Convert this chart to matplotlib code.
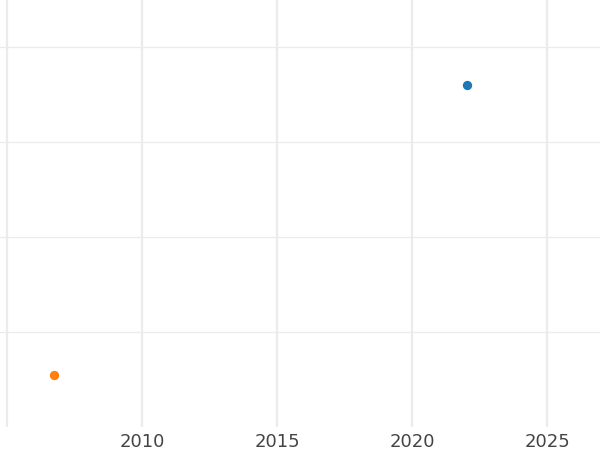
import matplotlib
matplotlib.use("Agg")
import matplotlib.pyplot as plt

# two single-point series, years on x, unlabeled values on y
years_a = [2022.05]
values_a = [3.6]
years_b = [2006.75]
values_b = [0.55]

x_ticks = [2005, 2010, 2015, 2020, 2025]
x_labels = ["", "2010", "2015", "2020", "2025"]
y_ticks = [1, 2, 3, 4]

fig = plt.figure(figsize=(6, 4.5), dpi=100)
ax = fig.add_axes([0, 23 / 450, 1, 427 / 450])

ax.scatter(years_a, values_a, s=45, color="#1f77b4", zorder=3, linewidths=0)
ax.scatter(years_b, values_b, s=45, color="#ff7f0e", zorder=3, linewidths=0)

ax.set_xlim(2004.74, 2026.96)
ax.set_ylim(0, 427 / 95)

ax.set_xticks(x_ticks)
ax.set_xticklabels(x_labels)
ax.set_yticks(y_ticks)
ax.set_yticklabels([])

ax.grid(axis="x", color="#ebebeb", linewidth=1.6)
ax.grid(axis="y", color="#ebebeb", linewidth=0.9)
ax.set_axisbelow(True)

for s in ax.spines.values():
    s.set_visible(False)
ax.tick_params(length=0, labelsize=13, labelcolor="#444444", pad=4)

fig.savefig("out.png")
